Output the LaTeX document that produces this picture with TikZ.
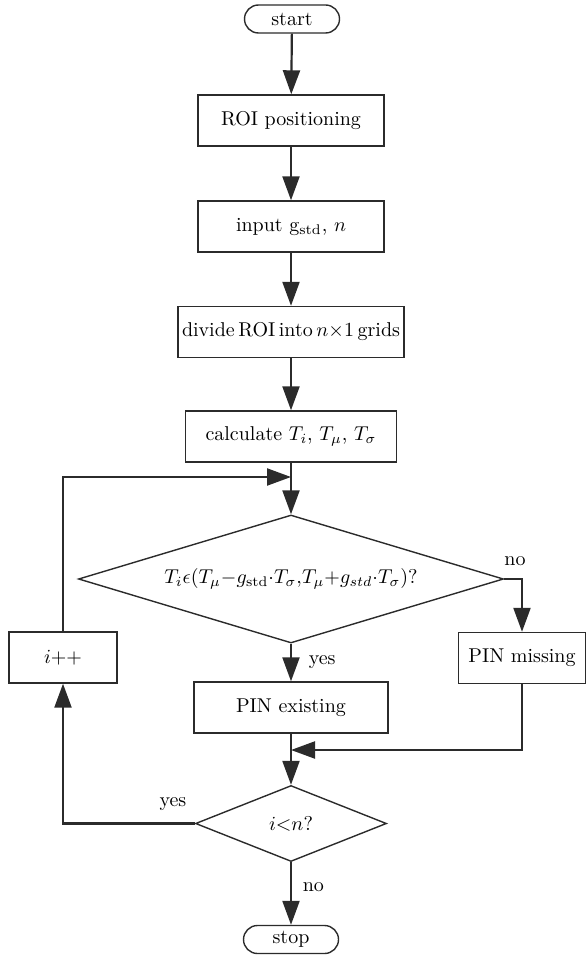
\documentclass[tikz,border=0pt]{standalone}
\usepackage{amsmath,amssymb}
\usepackage{xcolor}
\usepackage{tikz}
\usetikzlibrary{arrows.meta,shapes.geometric}
\definecolor{linec}{HTML}{2B2B2B}
\tikzset{
  ar/.style={-{Triangle[length=12pt,width=8.5pt]},line width=1.1pt,linec},
  box/.style={draw=linec,line width=0.7pt,align=center,inner sep=2pt,minimum height=25.5pt},
  term/.style={draw=linec,line width=0.7pt,rounded corners=7pt,minimum width=47.5pt,minimum height=14pt,inner sep=1pt},
  dec/.style={draw=linec,line width=0.7pt,diamond,inner sep=0pt},
  tight/.style={execute at begin node={\spaceskip=0.18em plus 0.05em\relax}}
}

\begin{document}
\begin{tikzpicture}[x=0.5pt,y=-0.5pt]
\useasboundingbox (0,0) rectangle (587,957);
% main column
\node[term] (start) at (292,19) {start};
\node[box,minimum width=93pt] (roi) at (291,120.5) {ROI positioning};
\node[box,minimum width=93pt] (inp) at (291,226.5) {input $\mathrm{g}_{\mathrm{std}}$, $n$};
\node[box,minimum width=110pt,tight] (grid) at (291,332) {divide ROI into $n{\times}1$ grids};
\node[box,minimum width=105.5pt] (calc) at (291,436.5) {calculate $T_i$, $T_\mu$, $T_\sigma$};
\node[dec,aspect=3.3,minimum width=212.5pt,minimum height=64pt] (chk) at (291,579)
  {$T_i\epsilon(T_\mu{-}g_{\mathrm{std}}{\cdot}T_\sigma{,}T_\mu{+}g_{std}{\cdot}T_\sigma)?$};
\node[box,minimum width=63.5pt] (miss) at (522,658) {PIN missing};
\node[box,minimum width=97pt] (exist) at (291,707.5) {PIN existing};
\node[box,minimum width=54pt] (inc) at (63,657.5) {$i{+}{+}$};
\node[dec,aspect=2.5,minimum width=95.5pt,minimum height=38pt] (cnt) at (291,823.5) {$i{<}n?$};
\node[term] (stop) at (291,939.5) {stop};
\coordinate (join) at (291,477);
\coordinate (merge) at (291,750);

\draw[ar] (start) -- (roi);
\draw[ar] (roi) -- (inp);
\draw[ar] (inp) -- (grid);
\draw[ar] (grid) -- (calc);
\draw[ar] (calc) -- (chk);
\draw[ar] (chk.east) -| node[pos=0.5,above=3pt,xshift=-3.5pt,text=black] {no} (miss.north);
\draw[ar] (chk) -- node[right=5pt,text=black] {yes} (exist);
\draw[ar] (miss.south) |- (merge);
\draw[ar] (exist) -- (cnt);
\draw[ar] (cnt.west) -| node[pos=0.083,above=2.5pt,text=black] {yes} (inc.south);
\draw[ar] (inc.north) |- (join);
\draw[ar] (cnt) -- node[pos=0.4,right=2pt,text=black] {no} (stop);
\end{tikzpicture}
\end{document}
